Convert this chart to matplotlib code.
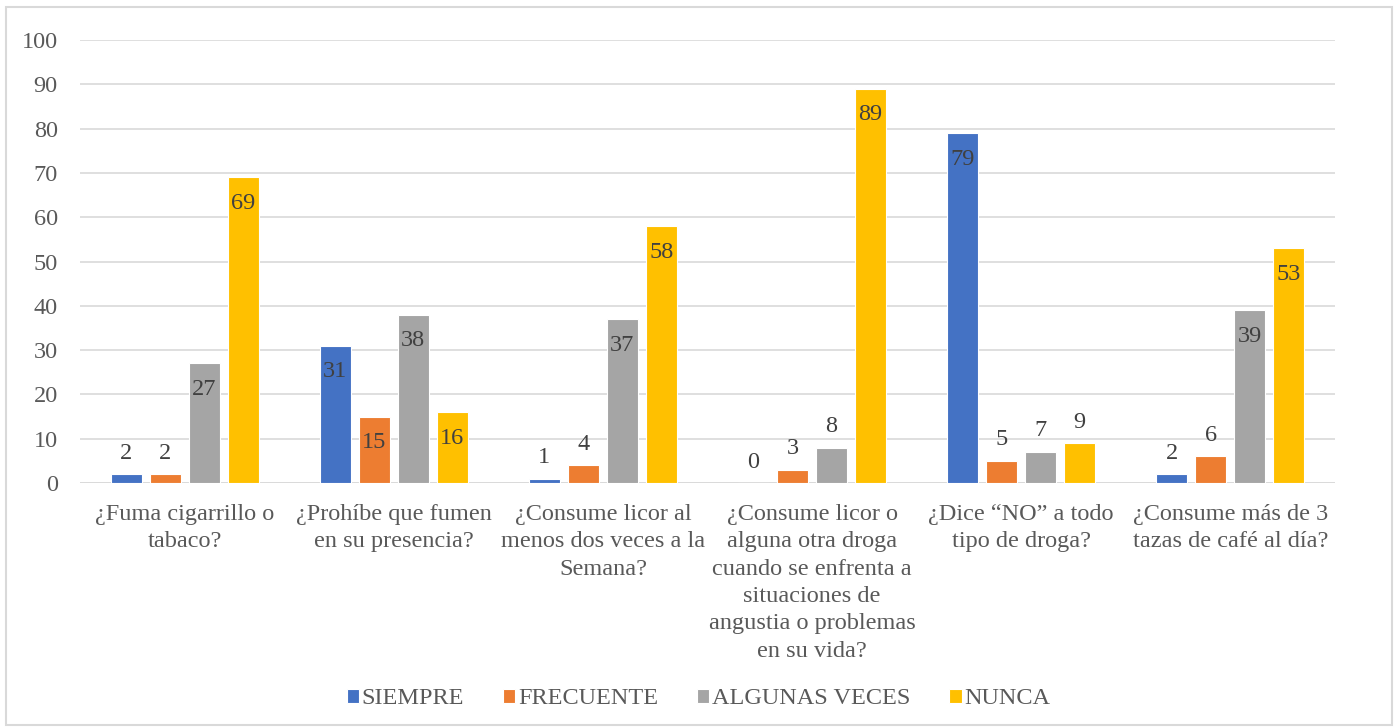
import matplotlib
matplotlib.use("Agg")
import matplotlib.pyplot as plt
import numpy as np
from matplotlib.patches import Rectangle

categories = [
    "¿Fuma cigarrillo o\ntabaco?",
    "¿Prohíbe que fumen\nen su presencia?",
    "¿Consume licor al\nmenos dos veces a la\nSemana?",
    "¿Consume licor o\nalguna otra droga\ncuando se enfrenta a\nsituaciones de\nangustia o problemas\nen su vida?",
    "¿Dice “NO” a todo\ntipo de droga?",
    "¿Consume más de 3\ntazas de café al día?",
]
series_names = ["SIEMPRE", "FRECUENTE", "ALGUNAS VECES", "NUNCA"]
siempre = [2, 31, 1, 0, 79, 2]
frecuente = [2, 15, 4, 3, 5, 6]
algunas = [27, 38, 37, 8, 7, 39]
nunca = [69, 16, 58, 89, 9, 53]
colors = ["#4472C4", "#ED7D31", "#A5A5A5", "#FFC000"]

plt.rcParams['font.family'] = 'serif'
plt.rcParams['font.serif'] = ['Liberation Serif', 'DejaVu Serif']
txt = "#595959"
fs = 17.5

fig = plt.figure(figsize=(13.97, 7.28), dpi=100)
ax = fig.add_axes([80/1397, 1-483/728, (1335-80)/1397, (483-40)/728])

x = np.arange(len(categories))
step = 39/209
w = 31/209
data = [siempre, frecuente, algunas, nunca]
for i, (vals, c, name) in enumerate(zip(data, colors, series_names)):
    pos = x + (i - 1.5) * step
    ax.bar(pos, vals, width=w, color=c, edgecolor="white", linewidth=0.8, label=name, zorder=3)
    for xp, v in zip(pos, vals):
        off = -26 if v >= 15 else 21
        ax.annotate(str(v), (xp, v), xytext=(0, off), textcoords="offset pixels",
                    ha="center", va="center", fontsize=fs, color="#404040", zorder=4)

ax.set_xlim(-0.5, len(categories) - 0.5)
ax.set_ylim(0, 100)
ax.set_yticks(range(0, 101, 10))
ax.set_xticks(x)
ax.set_xticklabels(categories, fontsize=fs, color=txt, linespacing=1.4, va="top")
ax.tick_params(axis="y", labelsize=fs, colors=txt, length=0, pad=16)
ax.tick_params(axis="x", length=0, pad=15)
ax.grid(axis="y", color="#D9D9D9", linewidth=1.2, zorder=0)
for s in ax.spines.values():
    s.set_visible(False)
ax.axhline(0, color="#D9D9D9", linewidth=1.2, zorder=2)

handles, labels = ax.get_legend_handles_labels()
fig.legend(handles, labels, loc="center", bbox_to_anchor=(0.5, 1-699/728), ncol=4,
           frameon=False, fontsize=fs, handlelength=0.5, handleheight=0.5,
           handletextpad=0.12, columnspacing=1.6, labelcolor=txt)

fig.add_artist(Rectangle((6/1397, 3/728), 1386/1397, 718/728, transform=fig.transFigure,
                         fill=False, edgecolor="#D9D9D9", linewidth=1.5))

fig.savefig("out.png", dpi=100)
